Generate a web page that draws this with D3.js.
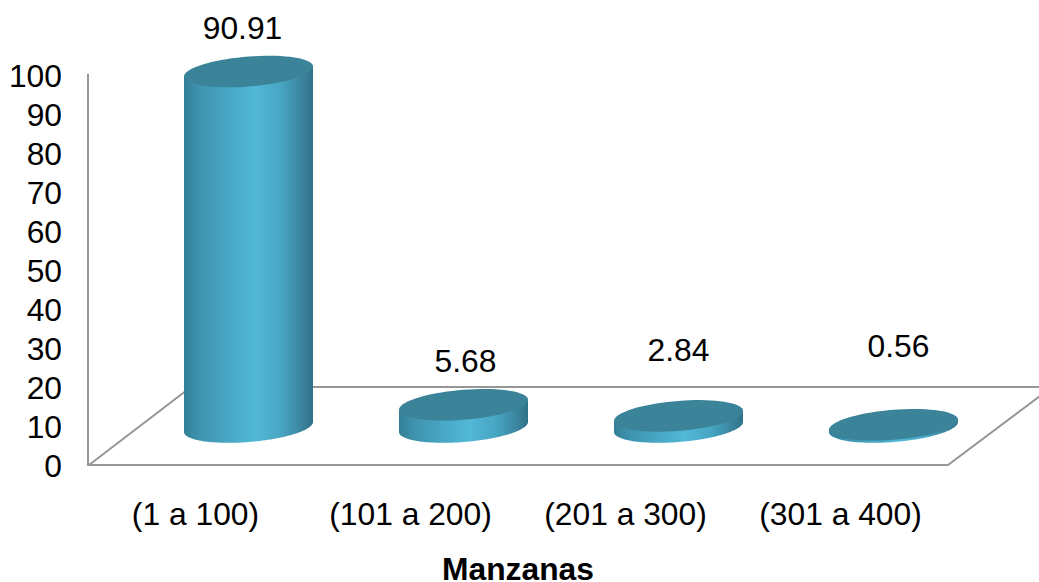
<!DOCTYPE html>
<html><head><meta charset="utf-8">
<script src="https://cdnjs.cloudflare.com/ajax/libs/d3/7.8.5/d3.min.js"></script>
<style>html,body{margin:0;padding:0;background:#fff}svg{display:block}text{font-family:"Liberation Sans",Arial,sans-serif;fill:#000}</style>
</head><body><svg id="c" width="1039" height="582"></svg>
<script>
const categories = ["(1 a 100)","(101 a 200)","(201 a 300)","(301 a 400)"];
const values = [90.91,5.68,2.84,0.56];
const valueLabels = ["90.91","5.68","2.84","0.56"];
const yTicks = [0,10,20,30,40,50,60,70,80,90,100];
const axisTitle = "Manzanas";

const W=1039,H=582,fs=31.8;
const svg=d3.select("#c");
const y=d3.scaleLinear().domain([0,100]).range([465,74]);
const yLabel=d3.scaleLinear().domain([0,100]).range([466.5,76]);
const x=d3.scalePoint().domain(categories).range([248.5,893.5]);
const labelX=d3.scalePoint().domain(categories).range([195.5,840.5]);
const a=64.5,b=15,skew=5,baseY=427;   // cylinder footprint
const dataLabelDx=[-6,2,0,5];
const dataLabelBase=[39,372,361,357];

const defs=svg.append("defs");
const g=defs.append("linearGradient").attr("id","side");
[[0,"#337f97"],[0.12,"#3f93ae"],[0.35,"#47a8c6"],[0.55,"#52b8d6"],[0.75,"#47a6c3"],[0.93,"#39819a"],[1,"#2f7286"]]
 .forEach(([o,c])=>g.append("stop").attr("offset",o).attr("stop-color",c));

const wall=svg.append("g").attr("fill","none").attr("stroke","#969696").attr("stroke-width",2);
const line=d3.line();
wall.append("path").attr("d",line([[88,y(100)],[88,y(0)],[948,y(0)],[1052,387]]));
wall.append("path").attr("d",line([[89,y(0)],[191,387],[1039,387]]));

const ax=svg.append("g").attr("transform","translate(62,0)")
  .call(d3.axisLeft(yLabel).tickValues(yTicks).tickSize(0).tickPadding(0).tickFormat(d3.format("d")));
ax.select(".domain").remove();
ax.selectAll("text").style("font-size",fs+"px").style("font-family",'"Liberation Sans",Arial,sans-serif').attr("fill","#000");

function ellipse(cx,cy,part){
  const n=72,pts=[];
  const t1=part==="lower"?Math.PI:2*Math.PI;
  for(let i=0;i<=n;i++){const t=t1*i/n;
    pts.push([cx+a*Math.cos(t),cy+b*Math.sin(t)-skew*Math.cos(t)]);}
  return pts;
}
const bars=svg.append("g").selectAll("g").data(categories).join("g");
bars.each(function(c,i){
  const gg=d3.select(this),cx=x(c),h=y(0)-y(values[i]),topY=baseY-h;
  const low=ellipse(cx,baseY,"lower");
  const side=[[cx+a,topY-skew],[cx+a,baseY-skew],...low,[cx-a,topY+skew]];
  gg.append("path").attr("d",d3.line()(side)+"Z").attr("fill","url(#side)");
  gg.append("path").attr("d",d3.line()(ellipse(cx,topY,"full"))+"Z").attr("fill","#3a8399");
});

svg.append("g").selectAll("text").data(categories).join("text")
  .attr("x",(c,i)=>x(c)+dataLabelDx[i]).attr("y",(c,i)=>dataLabelBase[i])
  .attr("text-anchor","middle").style("font-size",fs+"px").text((c,i)=>valueLabels[i]);

svg.append("g").selectAll("text").data(categories).join("text")
  .attr("x",c=>labelX(c)).attr("y",525).attr("text-anchor","middle").style("font-size",fs+"px").text(c=>c);

svg.append("text").attr("x",518).attr("y",580).attr("text-anchor","middle")
  .style("font-size",fs+"px").style("font-weight","bold").text(axisTitle);
</script></body></html>
